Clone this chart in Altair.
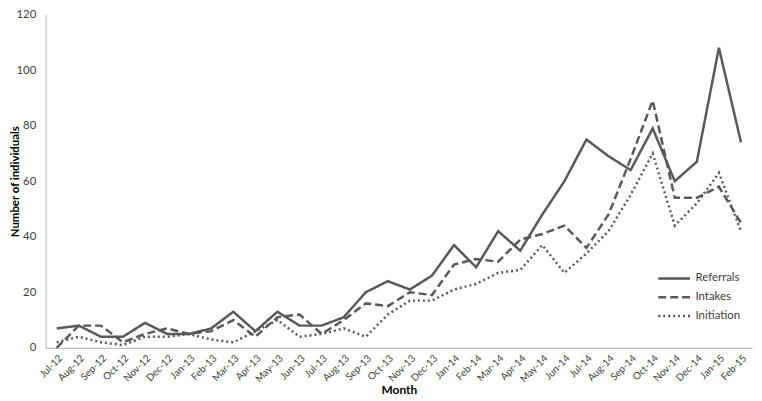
import altair as alt
import pandas as pd

months = ["Jul-12","Aug-12","Sep-12","Oct-12","Nov-12","Dec-12","Jan-13","Feb-13","Mar-13","Apr-13",
          "May-13","Jun-13","Jul-13","Aug-13","Sep-13","Oct-13","Nov-13","Dec-13","Jan-14","Feb-14",
          "Mar-14","Apr-14","May-14","Jun-14","Jul-14","Aug-14","Sep-14","Oct-14","Nov-14","Dec-14",
          "Jan-15","Feb-15"]
referrals = [7, 8, 4, 4, 9, 5, 5, 7, 13, 6, 13, 8, 8, 11, 20, 24, 21, 26, 37, 29, 42, 35, 48, 60, 75, 69, 64, 79, 60, 67, 108, 74]
intakes = [0, 8, 8, 2, 5, 7, 5, 6, 10, 4, 11, 12, 5, 10, 16, 15, 20, 19, 30, 32, 31, 39, 41, 44, 36, 48, 68, 89, 54, 54, 58, 45]
initiation = [2, 4, 2, 1, 4, 4, 5, 3, 2, 6, 10, 4, 5, 7, 4, 12, 17, 17, 21, 23, 27, 28, 37, 27, 34, 42, 55, 70, 44, 52, 63, 42]
series = ["Referrals", "Intakes", "Initiation"]
y_ticks = [0, 20, 40, 60, 80, 100, 120]

rows = []
for name, vals in zip(series, [referrals, intakes, initiation]):
    for m, v in zip(months, vals):
        rows.append({"Month": m, "Value": v, "Series": name})
df = pd.DataFrame(rows)

chart = alt.Chart(df).mark_line(color="#595959", strokeWidth=2.5).encode(
    x=alt.X("Month:N", sort=months, scale=alt.Scale(type="point", padding=0.5),
            axis=alt.Axis(title="Month", labelAngle=-45, ticks=False, domainColor="#BFBFBF",
                          domainWidth=1.2,
                          labelColor="#404040", labelFont="Lato", labelFontSize=10,
                          titleFont="Lato", titleFontSize=12, titleFontWeight="bold",
                          titleColor="#000000", titleBaseline="top", titleY=37, labelPadding=5)),
    y=alt.Y("Value:Q", scale=alt.Scale(domain=[0, 120]),
            axis=alt.Axis(title="Number of individuals", values=y_ticks, grid=False,
                          ticks=False, domainColor="#BFBFBF", domainWidth=1.2, labelColor="#404040",
                          labelFont="Lato", labelFontSize=11.5, labelPadding=10,
                          titleFont="Lato", titleFontSize=11.5, titleFontWeight="bold",
                          titleColor="#000000", titleX=-25, titleY=168)),
    strokeDash=alt.StrokeDash("Series:N", sort=series,
                              scale=alt.Scale(domain=series, range=[[1, 0], [8, 4], [2, 3]]),
                              legend=alt.Legend(title=None, orient="none", legendX=616, legendY=259,
                                                symbolType="stroke", symbolSize=1024, clipHeight=14,
                                                symbolStrokeWidth=2.5, symbolStrokeColor="#595959",
                                                labelFont="Lato", labelFontSize=11.5, labelOffset=4,
                                                labelColor="#404040", rowPadding=5)),
    detail="Series:N",
).properties(
    width=712, height=336,
    padding={"left": 38, "top": 5, "right": 2, "bottom": 50},
    autosize=alt.AutoSizeParams(type="none"),
).configure_view(stroke=None)

chart.save("out.html", embed_options={"renderer": "svg", "actions": False})
